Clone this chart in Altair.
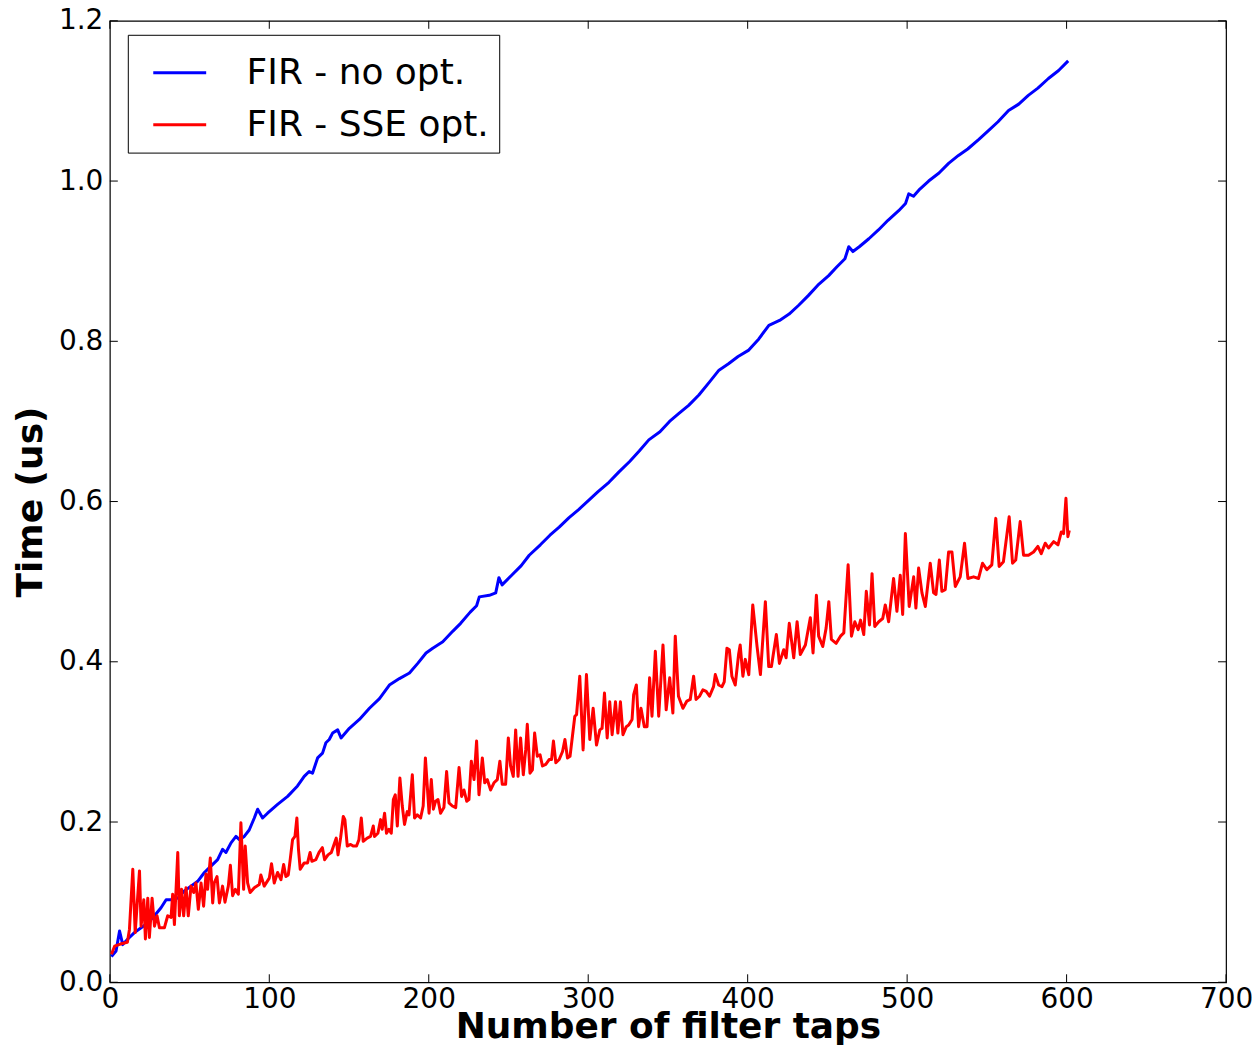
import altair as alt
import pandas as pd

# ---- data ----
blue_taps = [1, 3.9, 6.1, 8.1, 11.3, 15.4, 19.6, 23.8, 28, 32.1, 35.3, 38.4, 42.6, 46.7, 50.9, 55.1,
             59.3, 63.4, 67.6, 70.7, 72.8, 76, 79.1, 81.2, 84.3, 87.4, 90.6, 92.7, 95.8, 98.9, 105.2,
             111.5, 117.7, 121.9, 125, 127.1, 130.3, 133.4, 135.5, 137.6, 139.7, 142.9, 145, 150.2,
             156.5, 162.8, 169.1, 175.3, 181.6, 187.9, 193.1, 198.3, 202.5, 208.8, 215, 220, 226, 230,
             231.7, 238, 242, 244, 246, 252, 258, 263, 270, 276, 281.8, 288, 294, 300.6, 306, 313,
             319.3, 326, 332, 338, 345, 351, 356.9, 363, 369.4, 376, 382, 388, 394, 400.7, 407, 413.3,
             420, 426, 432, 438, 444, 450.8, 456, 461, 463.4, 466, 470, 476, 482, 488, 494.7, 499, 501,
             504, 508, 513.5, 520, 526, 532.2, 538, 545, 551, 557, 563.6, 570, 576, 582, 588.6, 595, 601]
blue_time = [0.032, 0.039, 0.064, 0.047, 0.054, 0.062, 0.068, 0.074, 0.083, 0.093, 0.103, 0.103, 0.105,
             0.114, 0.120, 0.126, 0.137, 0.145, 0.153, 0.166, 0.162, 0.174, 0.182, 0.178, 0.182, 0.190,
             0.205, 0.216, 0.205, 0.211, 0.222, 0.232, 0.245, 0.257, 0.263, 0.261, 0.280, 0.286, 0.299,
             0.303, 0.311, 0.315, 0.305, 0.317, 0.328, 0.342, 0.354, 0.371, 0.379, 0.386, 0.398, 0.411,
             0.417, 0.425, 0.438, 0.448, 0.462, 0.470, 0.481, 0.483, 0.486, 0.505, 0.496, 0.508, 0.520,
             0.533, 0.546, 0.558, 0.568, 0.580, 0.590, 0.602, 0.612, 0.624, 0.637, 0.650, 0.663, 0.677,
             0.687, 0.700, 0.710, 0.720, 0.733, 0.749, 0.764, 0.772, 0.781, 0.789, 0.803, 0.820, 0.826,
             0.834, 0.845, 0.857, 0.870, 0.882, 0.893, 0.903, 0.918, 0.912, 0.918, 0.928, 0.939, 0.951,
             0.963, 0.972, 0.984, 0.981, 0.990, 1.000, 1.010, 1.022, 1.032, 1.040, 1.052, 1.063, 1.074,
             1.088, 1.096, 1.107, 1.116, 1.128, 1.138, 1.150]

red_taps = [1, 3, 7, 11, 12.3, 14.4, 15.9, 18.6, 19.6, 21.3, 22.3, 23.8, 24.8, 26.5, 28, 29.6, 31.1,
            34.2, 36.3, 38.4, 39.4, 40.5, 42.6, 43.6, 45, 46.3, 47.8, 49.2, 50.9, 52.6, 54, 55.5, 57.2,
            58.8, 60.3, 61.3, 63, 64.5, 65.5, 67.2, 68.7, 70.7, 72.2, 74.3, 75.6, 77, 78.7, 80.6, 82.2,
            83.9, 84.9, 86.4, 88, 90.6, 93.7, 94.7, 96.8, 100,
            101.4, 103.1, 105.2, 107.3, 109, 110.4, 111.9, 113.1, 114.6, 116.1, 117.3, 118.3, 119.4,
            121.9, 124, 125.6, 126.7, 129.2, 131.2, 133.3, 134.7, 136.8, 138.9, 140.6, 142, 143.1,
            144.7, 146.4, 147.4, 148.9, 151, 152.6, 154.7, 156.2, 157.7, 158.9, 161.4, 163.5, 165.2,
            166, 168.1, 169.8, 170.8, 172.3, 173.5, 175, 176.5, 177.8, 179, 180.3, 181.9, 183.4, 184.8,
            186.5, 187.6, 189.7, 191.1, 192.8, 194.9, 196.5, 197.9,
            200.2, 201.6, 202.9, 204.3, 205.8, 207.4, 209.5, 211.2, 212.7, 214.8, 216.9, 219, 220.6,
            222.1, 223.8, 225.2, 226.7, 228.4, 230, 231.5, 233.6, 235.1, 236.7, 238.8, 240.9, 243,
            244.6, 246.1, 248.2, 249.9, 251.3, 253, 254.5, 256, 257.6, 259.3, 260.8, 261.8, 263.5, 265,
            266.4, 268.1, 269.8, 271.3, 273.4, 275.5, 277, 278.2, 279.7, 281.8, 283.9, 285.4, 287,
            288.6, 290.1, 291.6, 292.7, 294.7, 296.8, 298.9,
            301, 303.1, 305.2, 307.3, 308.7, 310.2, 311.9, 313.5, 315, 317.1, 318.6, 320.2, 321.8,
            323.9, 325.4, 327.5, 328.5, 330.2, 331.6, 333.1, 335.2, 336.9, 338.5, 340, 342.1, 344.2,
            346.9, 348.9, 351.1, 353.1, 354.6, 356.6, 359.4, 361.9, 364, 366.1, 367.6, 369.8, 371.9,
            374, 376.1, 378.6, 379.7, 381.8, 383.9, 385.3, 387, 388.5, 390.1, 392.2, 394.3, 395.3, 397,
            398.5, 400.7,
            403.2, 405.9, 408, 411.1, 413.2, 414.9, 418, 419.9, 422.6, 424.1, 426.1, 428.9, 431, 433,
            436.2, 439.3, 441, 443.1, 444.5, 447.1, 449.2, 450.9, 452.5, 455.5, 458.2, 460.3, 463,
            465.1, 467.2, 469.3, 470.8, 472.8, 474.4, 476.4, 478, 479.7, 482.2, 484.7,
            486.3, 488.4, 491.5, 493.6, 495.7, 497.2, 498.9, 501.3, 504.1, 505.5, 507.2, 509.3, 511.4,
            514.5, 516.6, 518.1, 520.2, 521.8, 523.9, 526, 528.1, 530.2, 533.3, 536, 538.1, 541.7,
            544.8, 547.3, 550, 553.1, 555.6, 557.7, 560.4, 564, 566.1, 568.1, 570.9, 573, 576.1, 579.3,
            582, 584.1, 586.6, 588.7, 591.9, 594.6, 596.7, 598.1, 599.6, 600.8, 601.7]
red_time = [0.035, 0.045, 0.048, 0.050, 0.066, 0.141, 0.062, 0.139, 0.070, 0.103, 0.054, 0.105, 0.056,
            0.105, 0.070, 0.083, 0.068, 0.068, 0.083, 0.081, 0.110, 0.072, 0.162, 0.083, 0.116, 0.083,
            0.118, 0.083, 0.120, 0.112, 0.124, 0.091, 0.124, 0.095, 0.135, 0.116, 0.155, 0.099, 0.124,
            0.132, 0.099, 0.120, 0.100, 0.120, 0.146, 0.108, 0.116, 0.110, 0.199, 0.116, 0.170, 0.124,
            0.112, 0.118, 0.122, 0.134, 0.120, 0.130,
            0.148, 0.124, 0.137, 0.128, 0.147, 0.132, 0.134, 0.153, 0.178, 0.182, 0.205, 0.166, 0.141,
            0.149, 0.149, 0.162, 0.151, 0.153, 0.162, 0.168, 0.153, 0.159, 0.162, 0.172, 0.180, 0.159,
            0.180, 0.207, 0.203, 0.170, 0.172, 0.170, 0.170, 0.178, 0.205, 0.176, 0.180, 0.182, 0.195,
            0.182, 0.186, 0.203, 0.191, 0.211, 0.186, 0.191, 0.186, 0.228, 0.234, 0.195, 0.255, 0.220,
            0.197, 0.213, 0.209, 0.259, 0.205, 0.209, 0.205, 0.220, 0.280,
            0.211, 0.253, 0.216, 0.226, 0.228, 0.211, 0.218, 0.263, 0.224, 0.220, 0.218, 0.268, 0.232,
            0.240, 0.226, 0.228, 0.276, 0.253, 0.301, 0.234, 0.280, 0.249, 0.253, 0.240, 0.249, 0.253,
            0.276, 0.247, 0.247, 0.305, 0.270, 0.257, 0.315, 0.257, 0.305, 0.259, 0.290, 0.322, 0.261,
            0.265, 0.311, 0.282, 0.284, 0.270, 0.272, 0.278, 0.278, 0.301, 0.274, 0.278, 0.288, 0.303,
            0.280, 0.282, 0.307, 0.332, 0.334, 0.382, 0.290, 0.384,
            0.303, 0.342, 0.296, 0.315, 0.317, 0.361, 0.305, 0.350, 0.309, 0.350, 0.311, 0.350, 0.309,
            0.319, 0.321, 0.328, 0.359, 0.371, 0.319, 0.342, 0.319, 0.319, 0.380, 0.332, 0.413, 0.332,
            0.421, 0.340, 0.380, 0.336, 0.432, 0.357, 0.342, 0.351, 0.353, 0.382, 0.353, 0.357, 0.365,
            0.363, 0.357, 0.369, 0.384, 0.371, 0.369, 0.375, 0.417, 0.415, 0.382, 0.371, 0.409, 0.421,
            0.382, 0.403, 0.384,
            0.471, 0.419, 0.384, 0.475, 0.394, 0.394, 0.434, 0.398, 0.415, 0.405, 0.448, 0.405, 0.450,
            0.409, 0.421, 0.455, 0.411, 0.483, 0.432, 0.419, 0.442, 0.475, 0.428, 0.423, 0.432, 0.436,
            0.521, 0.432, 0.450, 0.440, 0.452, 0.434, 0.488, 0.446, 0.510, 0.444, 0.450, 0.454,
            0.471, 0.450, 0.504, 0.463, 0.508, 0.459, 0.560, 0.469, 0.506, 0.467, 0.517, 0.486, 0.469,
            0.523, 0.486, 0.484, 0.527, 0.488, 0.490, 0.537, 0.537, 0.494, 0.506, 0.548, 0.504, 0.506,
            0.504, 0.523, 0.515, 0.521, 0.579, 0.519, 0.525, 0.581, 0.523, 0.527, 0.575, 0.533, 0.533,
            0.537, 0.544, 0.535, 0.548, 0.542, 0.550, 0.546, 0.562, 0.560, 0.604, 0.556, 0.564]

series_names = ["FIR - no opt.", "FIR - SSE opt."]
series_colors = ["#0000ff", "#ff0000"]
x_ticks = [0, 100, 200, 300, 400, 500, 600, 700]
y_ticks = [0.0, 0.2, 0.4, 0.6, 0.8, 1.0, 1.2]

W, H = 1118, 963
FONT = "DejaVu Sans"
XT = "Number of filter taps"
YT = "Time (us)"

blue_df = pd.DataFrame({"taps": blue_taps, "time": blue_time, "series": series_names[0]})
red_df = pd.DataFrame({"taps": red_taps, "time": red_time, "series": series_names[1]})
xt_df = pd.DataFrame({"taps": x_ticks})
yt_df = pd.DataFrame({"time": y_ticks})

xscale = alt.Scale(domain=[0, 700], nice=False, zero=False)
yscale = alt.Scale(domain=[0, 1.2], nice=False, zero=False)

xaxis = alt.Axis(values=x_ticks, format="d", tickSize=0, labelPadding=3, labelFlush=False,
                 labelOverlap=False, domain=False, grid=False,
                 titleX=W / 2, titleY=55, titleBaseline="alphabetic", titleAlign="center")
yaxis = alt.Axis(values=y_ticks, format=".1f", tickSize=0, labelPadding=7, labelOverlap=False,
                 domain=False, grid=False,
                 titleX=-68, titleY=H / 2, titleBaseline="alphabetic", titleAlign="center",
                 titleAngle=270)

color = alt.Color("series:N",
                  scale=alt.Scale(domain=series_names, range=series_colors),
                  legend=alt.Legend(title=None, orient="none", legendX=18, legendY=14,
                                    symbolType="stroke", symbolSize=2809, symbolStrokeWidth=3,
                                    symbolOffset=14,
                                    labelFontSize=36, labelFont=FONT, labelColor="black",
                                    labelOffset=39, padding=10, rowPadding=6,
                                    strokeColor="black", fillColor="white", cornerRadius=0,
                                    labelLimit=600))

def line_layer(df):
    return alt.Chart(df).mark_line(strokeWidth=3, strokeJoin="round").encode(
        x=alt.X("taps:Q", scale=xscale, axis=xaxis, title=XT),
        y=alt.Y("time:Q", scale=yscale, axis=yaxis, title=YT),
        color=color,
        order="taps:Q",
    )

blue = line_layer(blue_df)
red = line_layer(red_df)

tick_len = 8
xb = alt.Chart(xt_df).mark_rule(color="black", strokeWidth=1).encode(
    x=alt.X("taps:Q", scale=xscale, title=XT), y=alt.value(H), y2=alt.value(H - tick_len))
xtop = alt.Chart(xt_df).mark_rule(color="black", strokeWidth=1).encode(
    x=alt.X("taps:Q", scale=xscale, title=XT), y=alt.value(0), y2=alt.value(tick_len))
yl = alt.Chart(yt_df).mark_rule(color="black", strokeWidth=1).encode(
    y=alt.Y("time:Q", scale=yscale, title=YT), x=alt.value(0), x2=alt.value(tick_len))
yr = alt.Chart(yt_df).mark_rule(color="black", strokeWidth=1).encode(
    y=alt.Y("time:Q", scale=yscale, title=YT), x=alt.value(W), x2=alt.value(W - tick_len))

chart = alt.layer(blue, red, xb, xtop, yl, yr).properties(
    width=W, height=H,
    autosize=alt.AutoSizeParams(type="none"),
    padding={"left": 102, "top": 12, "right": 26, "bottom": 64},
    background="white",
).configure_view(
    stroke="black", strokeWidth=1.2
).configure_axis(
    labelFont=FONT, labelFontSize=28, labelColor="black",
    titleFont=FONT, titleFontSize=36, titleFontWeight="bold", titleColor="black",
)

chart.save("out.html", embed_options={"renderer": "svg", "actions": False})
